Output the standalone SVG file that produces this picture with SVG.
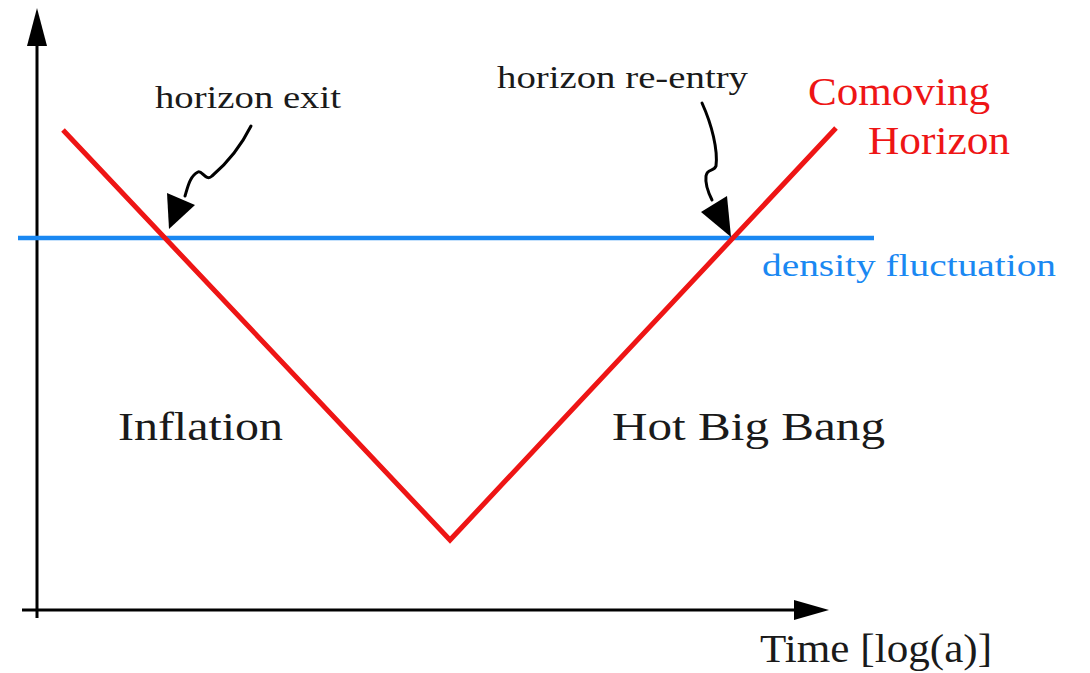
<svg xmlns="http://www.w3.org/2000/svg" width="1090" height="673" viewBox="0 0 1090 673">
<style>
.t{font-family:"Liberation Serif","Times New Roman",serif;fill:#1a1a1a}
.ax{stroke:#000;stroke-width:3;fill:none}
.cv{stroke:#000;stroke-width:3;fill:none;stroke-linecap:round}
</style>
<rect width="1090" height="673" fill="#fff"/>
<g id="axes">
<line class="ax" x1="37" y1="618" x2="37" y2="40"/>
<polygon points="37,8 27,46 47,46" fill="#000"/>
<line class="ax" x1="22" y1="610" x2="800" y2="610"/>
<polygon points="829,610 794,600 794,620" fill="#000"/>
</g>
<g id="density-line">
<line x1="18" y1="238" x2="874" y2="238" stroke="#1a88f2" stroke-width="4.5"/>
</g>
<g id="comoving-horizon">
<polyline points="63,130 450,540 836,128" fill="none" stroke="#ee1515" stroke-width="5" stroke-linejoin="miter"/>
</g>
<g id="connectors">
<path class="cv" d="M251,126 C240,148 225,165 212,176 C206,182 202,170 198,172 C190,176 188,186 185,196"/>
<polygon points="169,229 167,193 195,205" fill="#000"/>
<path class="cv" d="M702,103 C712,125 718,150 716,166 C714,172 707,168 706,176 C705,184 708,192 712,200"/>
<polygon points="731,237 701,212 727,196" fill="#000"/>
</g>
<g id="labels">
<text class="t" x="155" y="108" font-size="31" textLength="186" lengthAdjust="spacingAndGlyphs">horizon exit</text>
<text class="t" x="497" y="88" font-size="31" textLength="251" lengthAdjust="spacingAndGlyphs">horizon re-entry</text>
<text class="t" x="808" y="105" font-size="39" style="fill:#ee1515" textLength="182" lengthAdjust="spacingAndGlyphs">Comoving</text>
<text class="t" x="868" y="154" font-size="39" style="fill:#ee1515" textLength="142" lengthAdjust="spacingAndGlyphs">Horizon</text>
<text class="t" x="762" y="276" font-size="31" style="fill:#1a88f2" textLength="294" lengthAdjust="spacingAndGlyphs">density fluctuation</text>
<text class="t" x="118" y="440" font-size="41" textLength="165" lengthAdjust="spacingAndGlyphs">Inflation</text>
<text class="t" x="612" y="440" font-size="41" textLength="273" lengthAdjust="spacingAndGlyphs">Hot Big Bang</text>
<text class="t" x="760" y="662" font-size="39" textLength="232" lengthAdjust="spacingAndGlyphs">Time [log(a)]</text>
</g>
</svg>
